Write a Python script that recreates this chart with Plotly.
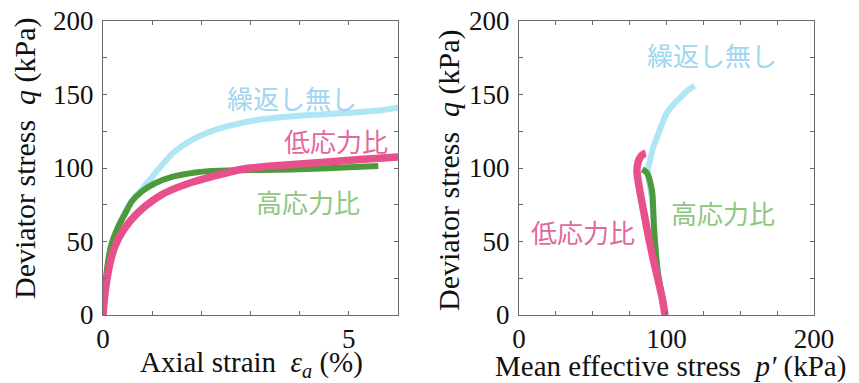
import plotly.graph_objects as go

W, H = 859, 383

# ---------------- data (left: strain vs q) ----------------
strain_none = [0, 0.05, 0.1, 0.2, 0.3, 0.45, 0.6, 0.8, 1.0, 1.2, 1.45, 1.8, 2.2, 2.6, 3.1, 3.8, 4.5, 5.2, 5.7, 6.0]
q_none_l = [0, 20, 35, 50, 60, 70, 78, 86, 94, 102, 111, 119, 125, 129, 132.5, 135, 136.5, 138, 139.5, 141]

strain_high = [0, 0.03, 0.07, 0.12, 0.18, 0.31, 0.45, 0.58, 0.79, 1.06, 1.4, 1.88, 2.2, 2.8, 3.5, 4.15, 5.0, 5.6]
q_high_l = [0, 14, 28, 40, 49, 60, 69, 77, 84, 89.6, 94, 97, 98, 98.5, 98.8, 99.3, 100.5, 101.4]

strain_low = [0, 0.03, 0.07, 0.14, 0.24, 0.38, 0.58, 0.86, 1.2, 1.53, 1.88, 2.2, 2.8, 3.5, 4.5, 5.3, 6.0]
q_low_l = [0, 12, 22, 35, 46.5, 56, 65, 74, 82, 87, 91, 94, 99, 101.5, 104, 106, 107.5]

# ---------------- data (right: p' vs q) ----------------
p_none = [99, 97, 94, 92.5, 91.5, 90.5, 89, 87.5, 87.5, 89, 91, 94, 97, 100, 104.5, 109.5, 114, 119]
q_none_r = [0, 12, 30, 46, 60, 75, 86, 94, 100, 106, 114, 122, 130, 137, 143, 148, 152.5, 156]

p_high = [99, 97, 94, 92.5, 91.5, 91, 90.5, 89.5, 88, 86, 83.5]
q_high_r = [0, 12, 30, 46, 60, 72, 82, 88, 94, 97.5, 99]

p_low = [99, 97, 94, 91, 88, 85, 82, 80, 80.5, 82, 84.5, 86]
q_low_r = [0, 12, 25, 38, 52, 68, 84, 97, 103, 107, 109.5, 110]

labels = ["繰返し無し", "高応力比", "低応力比"]

# ---------------- styles ----------------
C_BLUE = "#aee6f5"
C_GREEN = "#4c9a3c"
C_PINK = "#e8508c"
T_BLUE = "#9fd6f0"
T_GREEN = "#8fc77f"
T_PINK = "#e2689c"
SERIF = "Liberation Serif"
CJK = "Noto Sans CJK JP"

fig = go.Figure()

def add(x, y, color, width, xa, ya):
    fig.add_trace(go.Scatter(x=x, y=y, mode="lines", xaxis=xa, yaxis=ya,
                             line=dict(color=color, width=width, shape="spline", smoothing=0.6),
                             showlegend=False, hoverinfo="skip"))

add(strain_none, q_none_l, C_BLUE, 6, "x", "y")
add(strain_high, q_high_l, C_GREEN, 6, "x", "y")
add(strain_low, q_low_l, C_PINK, 7.5, "x", "y")

add(p_none, q_none_r, C_BLUE, 6, "x2", "y2")
add(p_high, q_high_r, C_GREEN, 6, "x2", "y2")
add(p_low, q_low_r, C_PINK, 7.5, "x2", "y2")

def px(x):
    return x / W

def py(y):
    return (H - y) / H

ydom = [py(315), py(21)]
axis_common = dict(showgrid=False, zeroline=False, showline=True, linecolor="#6a6a6a",
                   linewidth=1, mirror="ticks", ticks="inside", ticklen=4, tickwidth=1,
                   tickcolor="#6a6a6a", tickfont=dict(family=SERIF, size=27, color="#111"),
                   automargin=False)
xminor = dict(ticks="inside", ticklen=4, tickcolor="#6a6a6a")

fig.update_layout(
    width=W, height=H, margin=dict(l=0, r=0, t=0, b=0),
    paper_bgcolor="white", plot_bgcolor="white",
    xaxis=dict(domain=[px(103), px(398)], range=[0, 6], tickvals=[0, 5], anchor="y",
               ticklabelstandoff=0, minor=dict(dtick=1, **xminor), **axis_common),
    yaxis=dict(domain=ydom, range=[0, 200], tickvals=[0, 50, 100, 150, 200], anchor="x",
               ticklabelstandoff=3, minor=dict(dtick=25, **xminor), **axis_common),
    xaxis2=dict(domain=[px(519), px(814)], range=[0, 200], tickvals=[0, 100, 200], anchor="y2",
                ticklabelstandoff=0, minor=dict(dtick=25, **xminor), **axis_common),
    yaxis2=dict(domain=ydom, range=[0, 200], tickvals=[0, 50, 100, 150, 200], anchor="x2",
                ticklabelstandoff=3, minor=dict(dtick=25, **xminor), **axis_common),
)

def ann(text, x, y, size, color, family, angle=0):
    fig.add_annotation(text=text, x=px(x), y=py(y), xref="paper", yref="paper",
                       showarrow=False, xanchor="center", yanchor="middle", textangle=angle,
                       font=dict(family=family, size=size, color=color))

# axis titles
ann("Deviator stress  <i>q</i> (kPa)", 25, 158, 30, "#111", SERIF, -90)
ann("Deviator stress  <i>q</i> (kPa)", 449, 170, 30, "#111", SERIF, -90)
ann("Axial strain  <i>ε<sub>a</sub></i> (%)", 252, 364, 29, "#111", SERIF)
ann("Mean effective stress  <i>p′</i> (kPa)", 670, 366, 29, "#111", SERIF)

# series labels
ann(labels[0], 292, 98, 26, T_BLUE, CJK)
ann(labels[2], 336, 140, 26, T_PINK, CJK)
ann(labels[1], 308, 201, 26, T_GREEN, CJK)
ann(labels[0], 712, 54, 26, T_BLUE, CJK)
ann(labels[1], 723, 212, 26, T_GREEN, CJK)
ann(labels[2], 583, 231, 26, T_PINK, CJK)

fig.write_html("out.html", config={"displayModeBar": False},
               post_script="document.body.style.margin='0';document.body.style.padding='0';"
                           "document.body.style.overflow='hidden';")
